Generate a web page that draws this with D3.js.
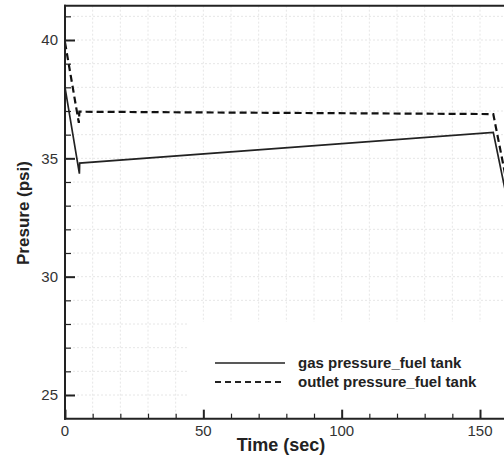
<!DOCTYPE html>
<html>
<head>
<meta charset="utf-8">
<script src="https://cdn.jsdelivr.net/npm/d3@7"></script>
<style>
  body { margin: 0; background: #fff; }
  svg { display: block; font-family: "Liberation Sans", Arial, sans-serif; }
</style>
</head>
<body>
<div id="plot"></div>
<script>
// Pressure history (time in sec, pressure in psi)
const gasTime = [0, 5.2, 5.3, 154.8, 162];
const gasPressure = [38.0, 34.35, 34.8, 36.1, 32.0];
const outletTime = [0, 5.0, 5.2, 154.8, 162];
const outletPressure = [39.9, 36.5, 36.97, 36.87, 32.6];

const seriesNames = ['gas pressure_fuel tank', 'outlet pressure_fuel tank'];
const xMajorTicks = [0, 50, 100, 150];
const xMinorTicks = [10, 20, 30, 40, 60, 70, 80, 90, 110, 120, 130, 140, 160];
const yMajorTicks = [25, 30, 35, 40];
const yMinorTicks = [26, 27, 28, 29, 31, 32, 33, 34, 36, 37, 38, 39, 41];

const W = 504, H = 459;
const svg = d3.select('#plot').append('svg').attr('width', W).attr('height', H);

const x = d3.scaleLinear().domain([0, 150]).range([65, 480]);
const y = d3.scaleLinear().domain([25, 40]).range([395, 40]);
const yBottom = y(24), yTop = y(41.45);
const xLeft = x(0), xRight = W + 10;

// very light dotted grid
const grid = svg.append('g');
grid.selectAll('line.gx')
  .data(xMinorTicks.concat(xMajorTicks.slice(1)))
  .enter().append('line')
  .attr('x1', d => x(d)).attr('x2', d => x(d))
  .attr('y1', yTop).attr('y2', yBottom)
  .attr('stroke', '#e6e6e6').attr('stroke-width', 1).attr('stroke-dasharray', '2,2');
grid.selectAll('line.gy')
  .data(yMinorTicks.concat(yMajorTicks))
  .enter().append('line')
  .attr('x1', xLeft).attr('x2', xRight)
  .attr('y1', d => y(d)).attr('y2', d => y(d))
  .attr('stroke', '#e6e6e6').attr('stroke-width', 1).attr('stroke-dasharray', '2,2');

// legend background covers the grid
svg.append('rect')
  .attr('x', 188).attr('y', 322)
  .attr('width', W - 188 + 10).attr('height', yBottom - 322)
  .attr('fill', '#fff');

// data lines
const line = d3.line().x(d => x(d[0])).y(d => y(d[1]));
svg.append('clipPath').attr('id', 'clip')
  .append('rect').attr('x', xLeft).attr('y', yTop).attr('width', xRight - xLeft).attr('height', yBottom - yTop);

const gasData = gasTime.map((t, i) => [t, gasPressure[i]]);
const outletData = outletTime.map((t, i) => [t, outletPressure[i]]);

svg.append('path')
  .datum(gasData)
  .attr('clip-path', 'url(#clip)')
  .attr('d', line)
  .attr('fill', 'none')
  .attr('stroke', '#222')
  .attr('stroke-width', 1.7);

svg.append('path')
  .datum(outletData)
  .attr('clip-path', 'url(#clip)')
  .attr('d', line)
  .attr('fill', 'none')
  .attr('stroke', '#111')
  .attr('stroke-width', 2.2)
  .attr('stroke-dasharray', '7,4');

// axes (ticks point inward)
const axisColor = '#222';
const yAxis = d3.axisRight(y).tickValues(yMajorTicks).tickSize(10).tickFormat('');
svg.append('g').attr('transform', `translate(${xLeft},0)`).call(yAxis)
  .call(g => g.select('.domain').remove())
  .selectAll('line').attr('stroke', axisColor).attr('stroke-width', 2);
const yAxisMinor = d3.axisRight(y).tickValues(yMinorTicks).tickSize(6).tickFormat('');
svg.append('g').attr('transform', `translate(${xLeft},0)`).call(yAxisMinor)
  .call(g => g.select('.domain').remove())
  .selectAll('line').attr('stroke', axisColor).attr('stroke-width', 1.2);

const xAxis = d3.axisTop(x).tickValues(xMajorTicks).tickSize(9).tickFormat('');
svg.append('g').attr('transform', `translate(0,${yBottom})`).call(xAxis)
  .call(g => g.select('.domain').remove())
  .selectAll('line').attr('stroke', axisColor).attr('stroke-width', 2);
const xAxisMinor = d3.axisTop(x).tickValues(xMinorTicks).tickSize(5).tickFormat('');
svg.append('g').attr('transform', `translate(0,${yBottom})`).call(xAxisMinor)
  .call(g => g.select('.domain').remove())
  .selectAll('line').attr('stroke', axisColor).attr('stroke-width', 1.2);

// frame lines
svg.append('line').attr('x1', xLeft).attr('x2', xLeft).attr('y1', yTop - 1).attr('y2', yBottom + 1)
  .attr('stroke', axisColor).attr('stroke-width', 2);
svg.append('line').attr('x1', xLeft - 1).attr('x2', xRight).attr('y1', yBottom).attr('y2', yBottom)
  .attr('stroke', axisColor).attr('stroke-width', 2);
svg.append('line').attr('x1', xLeft - 1).attr('x2', xRight).attr('y1', yTop).attr('y2', yTop)
  .attr('stroke', axisColor).attr('stroke-width', 2);

// tick labels
svg.selectAll('text.ylab')
  .data(yMajorTicks)
  .enter().append('text')
  .attr('x', 58).attr('y', d => y(d))
  .attr('dy', '0.35em')
  .attr('text-anchor', 'end')
  .style('font-size', '15px')
  .style('fill', '#333')
  .text(d => d);

svg.selectAll('text.xlab')
  .data(xMajorTicks)
  .enter().append('text')
  .attr('x', d => x(d)).attr('y', yBottom + 17)
  .attr('text-anchor', 'middle')
  .style('font-size', '15px')
  .style('fill', '#333')
  .text(d => d);

// axis titles
svg.append('text')
  .attr('x', 281).attr('y', 451)
  .attr('text-anchor', 'middle')
  .style('font-size', '18px')
  .style('font-weight', 'bold')
  .style('fill', '#222')
  .text('Time (sec)');

svg.append('text')
  .attr('transform', 'translate(29,213) rotate(-90)')
  .attr('text-anchor', 'middle')
  .style('font-size', '17px')
  .style('font-weight', 'bold')
  .style('fill', '#222')
  .text('Presure (psi)');

// legend
const legend = svg.append('g');
const legendRows = [363, 382];
seriesNames.forEach((name, i) => {
  legend.append('line')
    .attr('x1', 215).attr('x2', 285)
    .attr('y1', legendRows[i]).attr('y2', legendRows[i])
    .attr('stroke', '#222')
    .attr('stroke-width', i === 0 ? 1.7 : 2)
    .attr('stroke-dasharray', i === 0 ? null : '6,4');
  legend.append('text')
    .attr('x', 298).attr('y', legendRows[i])
    .attr('dy', '0.35em')
    .style('font-size', '15px')
    .style('font-weight', 'bold')
    .style('fill', '#222')
    .text(name);
});
</script>
</body>
</html>
